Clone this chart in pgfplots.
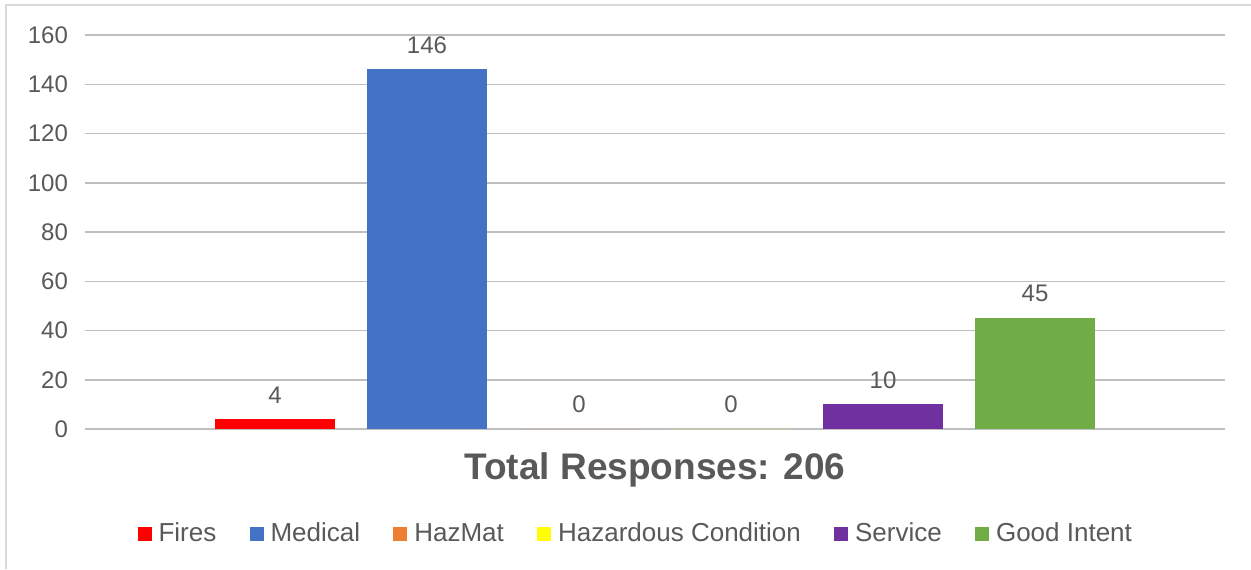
\documentclass[border=0pt]{standalone}
\usepackage{pgfplots}
\pgfplotsset{compat=1.18}
\usepackage{fontspec}
\setmainfont{Liberation Sans}
\definecolor{txt}{HTML}{595959}
\definecolor{grid}{HTML}{D9D9D9}
\definecolor{cFires}{HTML}{FF0000}
\definecolor{cMed}{HTML}{4472C4}
\definecolor{cHaz}{HTML}{ED7D31}
\definecolor{cCond}{HTML}{FFFF00}
\definecolor{cServ}{HTML}{7030A0}
\definecolor{cGood}{HTML}{70AD47}
\begin{document}
\begin{tikzpicture}[x=0.5pt,y=0.5pt]
\path[use as bounding box, fill=white] (0,0) rectangle (1251,569);
\draw[grid, line width=1.2pt] (6,0) -- (6,564) -- (1251,564);
\coordinate (A) at (85,140);
\begin{axis}[
  at={(A)}, anchor=south west,
  scale only axis, width=570pt, height=197pt,
  xmin=-1.25, xmax=6.25, ymin=0, ymax=160,
  ytick={0,20,...,160}, xtick=\empty,
  ymajorgrids, grid style={grid, line width=0.75pt},
  axis line style={draw=none}, major tick length=0pt,
  ticklabel style={font=\fontsize{12}{14}\selectfont, text=txt},
  yticklabel style={xshift=-5pt},
  /pgf/number format/assume math mode=true,
  ybar, bar width=60pt, bar shift=0pt,
  nodes near coords,
  every node near coord/.append style={font=\fontsize{12}{14}\selectfont, text=txt, yshift=4.5pt},
  legend columns=6,
  legend style={draw=none, at={(0.484,-0.272)}, anchor=center, font=\fontsize{13}{15}\selectfont, text=txt,
    nodes={text height=0.75em, text depth=0.22em},
    /tikz/every even column/.append style={column sep=14.6pt},
    /tikz/every odd column/.append style={column sep=1.5pt}},
  legend image code/.code={\fill[#1] (0pt,-2.4pt) rectangle (7pt,4.6pt);},
  clip=false,
]
\addplot[fill=cFires, draw=none] coordinates {(0,4)};
\addlegendentry{Fires}
\addplot[fill=cMed, draw=none] coordinates {(1,146)};
\addlegendentry{Medical}
\addplot[fill=cHaz, draw=none] coordinates {(2,0)};
\addlegendentry{HazMat}
\addplot[fill=cCond, draw=none] coordinates {(3,0)};
\addlegendentry{Hazardous Condition}
\addplot[fill=cServ, draw=none] coordinates {(4,10)};
\addlegendentry{Service}
\addplot[fill=cGood, draw=none] coordinates {(5,45)};
\addlegendentry{Good Intent}
\end{axis}
\node[font=\bfseries\fontsize{18.5}{22}\selectfont, text=txt] at (655,99) {Total Responses: 206};
\end{tikzpicture}
\end{document}
